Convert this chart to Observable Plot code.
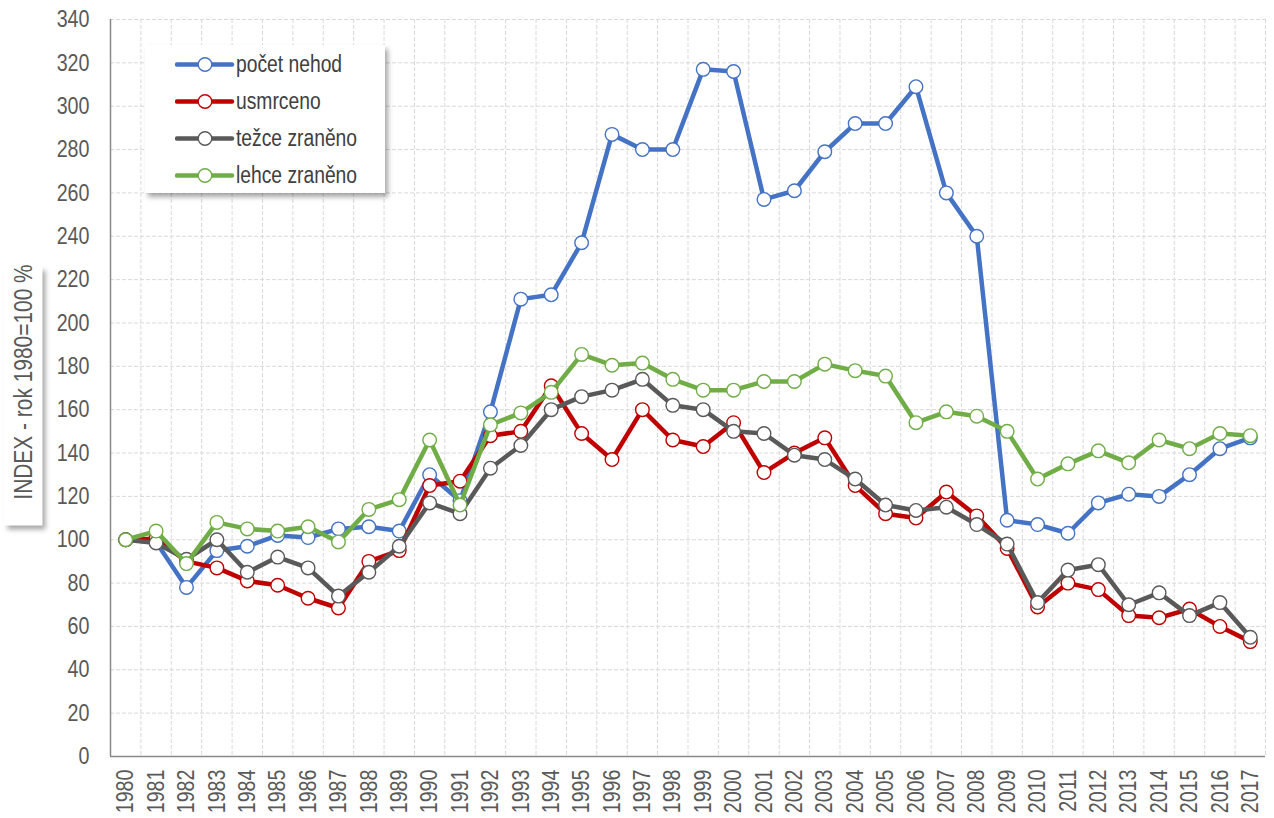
<!DOCTYPE html>
<html>
<head>
<meta charset="utf-8">
<script src="https://cdn.jsdelivr.net/npm/d3@7"></script>
<script src="https://cdn.jsdelivr.net/npm/@observablehq/plot@0.6"></script>
<style>
  html, body { margin: 0; padding: 0; background: #fff; }
  #wrap { position: relative; width: 1274px; height: 818px; overflow: hidden;
    font-family: "Liberation Sans", Arial, sans-serif; }
  #chart svg { display: block; }
  #legend { position: absolute; left: 145px; top: 45px; width: 240px; height: 148px;
    background: #fff; box-shadow: 3px 4px 5px rgba(0,0,0,0.35); }
  .row { position: absolute; left: 0; height: 37px; width: 240px; }
  .row svg { position: absolute; left: 30px; top: 0; }
  .row span { position: absolute; left: 91px; top: 0; line-height: 37px; font-size: 23.5px; color: #404040;
    white-space: nowrap; transform: scaleX(0.82); transform-origin: 0 50%; }
  #ylab { position: absolute; left: -107.5px; top: 375.5px; width: 260px; height: 39px;
    transform: rotate(-90deg); background: #fff; box-shadow: -4px 3px 5px rgba(0,0,0,0.35);
    text-align: center; line-height: 39px; font-size: 25.5px; color: #595959; white-space: nowrap; }
  #ylab span { display: inline-block; transform: scaleX(0.82); transform-origin: 50% 50%; }
</style>
</head>
<body>
<div id="wrap">
  <div id="chart"></div>
  <div id="legend"></div>
  <div id="ylab"><span>INDEX - rok 1980=100 %</span></div>
</div>
<script>
const years = [1980,1981,1982,1983,1984,1985,1986,1987,1988,1989,1990,1991,1992,1993,1994,1995,1996,1997,1998,1999,
  2000,2001,2002,2003,2004,2005,2006,2007,2008,2009,2010,2011,2012,2013,2014,2015,2016,2017];

const pocetNehod = [100,99,78,95,97,102,101,105,106,104,130,118,159,211,213,237,287,280,280,317,
  316,257,261,279,292,292,309,260,240,109,107,103,117,121,120,130,142,147];
const usmrceno = [100,100.5,90,87,81,79,73,68.5,90,95,125,127,148,150,171,149,137,160,146,143,
  154,131,140,147,125,112,110,122,111,96,69,80,77,65,64,68,60,53];
const tezceZraneno = [100,98.5,91,100,85,92,87,74,85,97,117,112,133,143.5,160,166,169,174,162,160,
  150,149,139,137,128,116,113.5,115,107,98,71,86,88.5,70,75.5,65,71,55];
const lehceZraneno = [100,104,89,108,105,104,106,99,114,118.5,146,116,153,158.5,168,185.5,180.5,181.5,174,169,
  169,173,173,181,178,175.5,154,159,157,150,128,135,141,135.5,146,142,149,148];

const seriesLabels = ["počet nehod", "usmrceno", "težce zraněno", "lehce zraněno"];
const seriesValues = [pocetNehod, usmrceno, tezceZraneno, lehceZraneno];
const seriesColors = ["#4472C4", "#C00000", "#595959", "#70AD47"];

const yTicks = [0,20,40,60,80,100,120,140,160,180,200,220,240,260,280,300,320,340];

const series = seriesLabels.map((name, i) => ({
  name, color: seriesColors[i],
  rows: years.map((year, j) => ({ year, value: seriesValues[i][j] }))
}));

const bandEdges = years.map(y => y + 0.5);
const font = `"Liberation Sans", Arial, sans-serif`;

const marks = [
  Plot.ruleY(yTicks.filter(v => v > 0), { stroke: "#d9d9d9", strokeWidth: 1, strokeDasharray: "4,2" }),
  Plot.ruleX(bandEdges, { stroke: "#d9d9d9", strokeWidth: 1, strokeDasharray: "4,2" }),
  Plot.ruleX([years[0] - 0.5], { stroke: "#898989", strokeWidth: 1.5 }),
  Plot.ruleY([0], { stroke: "#898989", strokeWidth: 1.5 }),
  Plot.axisY({ ticks: yTicks, tickSize: 0, tickPadding: 21, fontSize: 24, fill: "#595959" }),
  Plot.axisX({ ticks: years, tickFormat: d => String(d), tickRotate: -90, tickSize: 0, tickPadding: 13, fontSize: 24, fill: "#595959" })
];
for (const s of series) {
  marks.push(Plot.line(s.rows, { x: "year", y: "value", stroke: s.color, strokeWidth: 4.5, strokeLinejoin: "round", strokeLinecap: "round" }));
  marks.push(Plot.dot(s.rows, { x: "year", y: "value", r: 6.8, fill: "#fff", stroke: s.color, strokeWidth: 1.4 }));
}

const chart = Plot.plot({
  width: 1274,
  height: 818,
  marginLeft: 110,
  marginRight: 9,
  marginTop: 19,
  marginBottom: 62,
  style: { fontFamily: font, fontSize: "24px", color: "#595959", background: "#fff", overflow: "visible" },
  x: { type: "linear", domain: [years[0] - 0.5, years[years.length - 1] + 0.5], label: null },
  y: { domain: [0, 340], label: null },
  marks
});

// emulate a narrow typeface (Arial Narrow) by condensing the tick labels along their reading direction
function condense(nodes) {
  nodes.each(function () {
    const t = this.getAttribute("transform") || "";
    this.setAttribute("transform", `${t} scale(0.82,1)`);
  });
}
condense(d3.select(chart).selectAll('g[aria-label="y-axis tick label"] text'));
condense(d3.select(chart).selectAll('g[aria-label="x-axis tick label"] text'));

document.getElementById("chart").appendChild(chart);

// legend
const legend = document.getElementById("legend");
series.forEach((s, i) => {
  const row = document.createElement("div");
  row.className = "row";
  row.style.top = (0.5 + i * 37) + "px";
  row.innerHTML = `<svg width="60" height="37"><line x1="2" x2="57" y1="18.5" y2="18.5" stroke="${s.color}" stroke-width="4.5" stroke-linecap="round"/>` +
    `<circle cx="30" cy="18.5" r="6.8" fill="#fff" stroke="${s.color}" stroke-width="1.4"/></svg><span>${s.name}</span>`;
  legend.appendChild(row);
});
</script>
</body>
</html>
